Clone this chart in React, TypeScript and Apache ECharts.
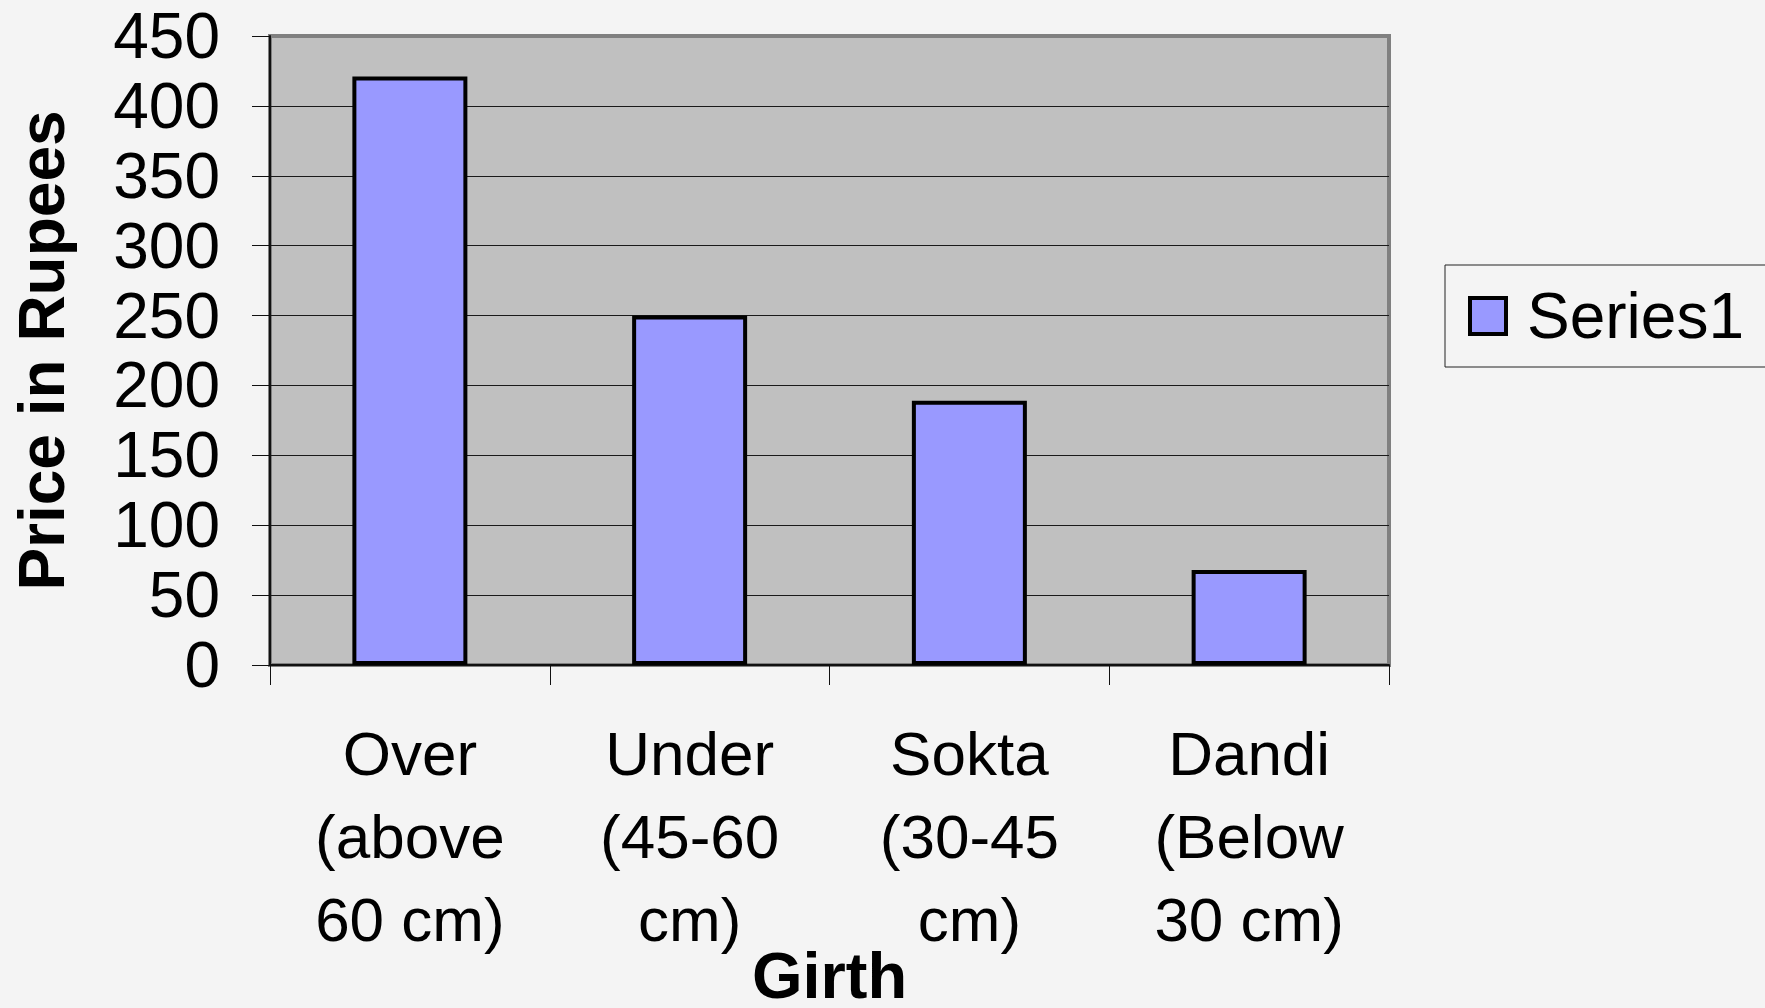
import React, { useEffect, useRef } from "react";
import * as echarts from "echarts";

const categories = [
  "Over\n(above\n60 cm)",
  "Under\n(45-60\ncm)",
  "Sokta\n(30-45\ncm)",
  "Dandi\n(Below\n30 cm)",
];
const series1Values = [421, 250, 189, 68];
const seriesName = "Series1";
const yMin = 0;
const yMax = 450;
const yInterval = 50;
const xTitle = "Girth";
const yTitle = "Price in Rupees";

const FONT = "'Liberation Sans', Arial, sans-serif";

export default function App() {
  const ref = useRef<HTMLDivElement>(null);
  useEffect(() => {
    document.body.style.margin = "0";
    document.body.style.background = "#f4f4f4";
    const chart = echarts.init(ref.current!, undefined, { renderer: "svg" });
    chart.setOption({
      animation: false,
      backgroundColor: "#f4f4f4",
      textStyle: { fontFamily: FONT },
      grid: {
        left: 270,
        right: 376,
        top: 36,
        bottom: 343,
        show: true,
        backgroundColor: "#c0c0c0",
        borderColor: "#808080",
        borderWidth: 4,
        containLabel: false,
        outerBoundsMode: "none",
      },
      legend: {
        show: true,
        left: 1445,
        top: 265,
        orient: "vertical",
        padding: [19, 24, 19, 23],
        borderColor: "#222",
        borderWidth: 1,
        backgroundColor: "transparent",
        itemWidth: 36,
        itemHeight: 36,
        icon: "rect",
        itemStyle: { borderColor: "#000", borderWidth: 4 },
        textStyle: {
          fontFamily: FONT,
          fontSize: 64,
          color: "#000",
          lineHeight: 64,
          padding: [0, 0, 0, 16],
        },
        data: [seriesName],
      },
      xAxis: {
        type: "category",
        data: categories,
        boundaryGap: true,
        name: xTitle,
        nameLocation: "middle",
        nameGap: 282,
        nameMoveOverlap: false,
        nameTextStyle: {
          fontFamily: FONT,
          fontSize: 65,
          fontWeight: "bold",
          color: "#000",
          lineHeight: 56,
        },
        axisLine: { show: true, lineStyle: { color: "#111", width: 2 } },
        axisTick: {
          show: true,
          alignWithLabel: false,
          length: 20,
          lineStyle: { color: "#111", width: 1 },
        },
        axisLabel: {
          interval: 0,
          margin: 47,
          fontFamily: FONT,
          fontSize: 62,
          lineHeight: 83,
          color: "#000",
          align: "center",
        },
        splitLine: { show: false },
      },
      yAxis: {
        type: "value",
        min: yMin,
        max: yMax,
        interval: yInterval,
        name: yTitle,
        nameLocation: "middle",
        nameGap: 196,
        nameMoveOverlap: false,
        nameTextStyle: {
          fontFamily: FONT,
          fontSize: 64,
          fontWeight: "bold",
          color: "#000",
          lineHeight: 64,
        },
        axisLine: { show: true, lineStyle: { color: "#111", width: 2 } },
        axisTick: { show: true, length: 18, lineStyle: { color: "#111", width: 1 } },
        axisLabel: {
          margin: 50,
          fontFamily: FONT,
          fontSize: 64,
          color: "#000",
        },
        splitLine: {
          show: true,
          showMinLine: false,
          showMaxLine: false,
          lineStyle: { color: "#1a1a1a", width: 1 },
        },
      },
      series: [
        {
          name: seriesName,
          type: "bar",
          data: series1Values,
          barWidth: 115,
          itemStyle: { color: "#9999ff", borderColor: "#000", borderWidth: 4 },
        },
      ],
    });
    return () => chart.dispose();
  }, []);
  return (
    <div
      ref={ref}
      style={{
        position: "absolute",
        left: 0,
        top: 0,
        width: 1765,
        height: 1008,
        background: "#f4f4f4",
      }}
    />
  );
}
